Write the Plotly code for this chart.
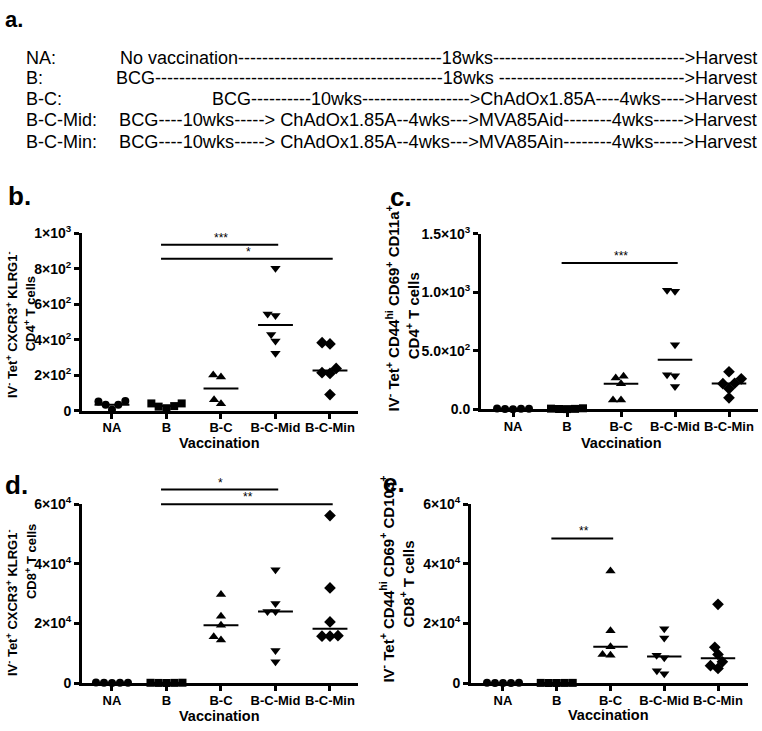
import math
import numpy as np
import plotly.graph_objects as go

W, H = 762, 731

# ---------------- data ----------------
categories = ["NA", "B", "B-C", "B-C-Mid", "B-C-Min"]

b_NA = [55, 34, 7, 34, 53]
b_B = [42, 27, 15, 24, 42]
b_BC = [202, 191, 40, 62]
b_BCMid = [803, 537, 546, 430, 393, 325]
b_BCMin = [377, 384, 215, 211, 239, 92]

c_NA = [4, 2, 0, 3, 6]
c_B = [3, 8, 1, 5, 2]
c_BC = [267, 281, 217, 78, 78]
c_BCMid = [1017, 1008, 550, 294, 286, 194]
c_BCMin = [320, 260, 222, 218, 175, 97]

d_NA = [150, 80, 0, 60, 120]
d_B = [100, 50, 0, 30, 80]
d_BC = [29700, 22400, 19400, 14400, 15500]
d_BCMid = [38000, 26700, 24000, 24000, 10900, 7100]
d_BCMin = [56200, 31900, 20500, 15900, 15700, 15700]

e_NA = [60, 20, 0, 40, 80]
e_B = [30, 0, 50, 10, 40]
e_BC = [37600, 17500, 12200, 9300, 9600]
e_BCMid = [18200, 15100, 9300, 8500, 4100, 3100]
e_BCMin = [26400, 12000, 9600, 7100, 5800, 4900]

b_ticks = [0, 200, 400, 600, 800, 1000]
b_ticktext = ["0", "2×10<sup>2</sup>", "4×10<sup>2</sup>", "6×10<sup>2</sup>", "8×10<sup>2</sup>", "1×10<sup>3</sup>"]
c_ticks = [0, 500, 1000, 1500]
c_ticktext = ["0.0", "5.0×10<sup>2</sup>", "1.0×10<sup>3</sup>", "1.5×10<sup>3</sup>"]
de_ticks = [0, 20000, 40000, 60000]
de_ticktext = ["0", "2×10<sup>4</sup>", "4×10<sup>4</sup>", "6×10<sup>4</sup>"]

# significance comparisons: (from, to, level, stars)
sig_b = [("B", "B-C-Mid", 936, "***"), ("B", "B-C-Min", 857, "*")]
sig_c = [("B", "B-C-Mid", 1250, "***")]
sig_d = [("B", "B-C-Mid", 64900, "*"), ("B", "B-C-Min", 60000, "**")]
sig_e = [("B", "B-C", 48500, "**")]

title_b = ["IV<sup>-</sup> Tet<sup>+</sup> CXCR3<sup>+</sup> KLRG1<sup>-</sup>", "CD4<sup>+</sup> T cells"]
title_c = ["IV<sup>-</sup> Tet<sup>+</sup> CD44<sup>hi</sup> CD69<sup>+</sup> CD11a<sup>+</sup>", "CD4<sup>+</sup> T cells"]
title_d = ["IV<sup>-</sup> Tet<sup>+</sup> CXCR3<sup>+</sup> KLRG1<sup>-</sup>", "CD8<sup>+</sup> T cells"]
title_e = ["IV<sup>-</sup> Tet<sup>+</sup> CD44<sup>hi</sup> CD69<sup>+</sup> CD103<sup>+</sup>", "CD8<sup>+</sup> T cells"]
x_title = "Vaccination"

schedule_labels = ["NA:", "B:", "B-C:", "B-C-Mid:", "B-C-Min:"]
schedule_text = [
    "No vaccination" + "-" * 34 + "18wks" + "-" * 32 + "&gt;Harvest",
    "BCG" + "-" * 48 + "18wks " + "-" * 31 + "&gt;Harvest",
    "BCG" + "-" * 10 + "10wks" + "-" * 18 + "&gt;ChAdOx1.85A" + "-" * 4 + "4wks" + "-" * 4 + "&gt;Harvest",
    "BCG----10wks-----&gt; ChAdOx1.85A--4wks---&gt;MVA85Aid--------4wks-----&gt;Harvest",
    "BCG----10wks-----&gt; ChAdOx1.85A--4wks---&gt;MVA85Ain--------4wks-----&gt;Harvest",
]

# ---------------- layout helpers ----------------
def px(x):
    return x / W

def py(y):
    return 1 - y / H

symbols = ["circle", "square", "triangle-up", "triangle-down", "diamond"]
msizes = [8, 8, 9, 9, 9]

def swarm(values, ymax, hpx, D=8.0):
    ypx = [v / ymax * hpx for v in values]
    order = sorted(range(len(values)), key=lambda i: ypx[i])
    placed = []
    offs = [0.0] * len(values)
    for i in order:
        cands = [0.0]
        for (qx, qy) in placed:
            dy = ypx[i] - qy
            if abs(dy) < D:
                dx = math.sqrt(D * D - dy * dy)
                cands += [qx - dx, qx + dx]
        ok = [c for c in cands
              if all((c - qx) ** 2 + (ypx[i] - qy) ** 2 >= D * D - 1e-6 for qx, qy in placed)]
        best = min(ok, key=lambda c: (round(abs(c), 6), c))
        placed.append((best, ypx[i]))
        offs[i] = best
    return offs

fig = go.Figure()
font_fam = "Liberation Sans, Arial, sans-serif"
BK = "black"

panels = [
    dict(n=1, groups=[b_NA, b_B, b_BC, b_BCMid, b_BCMin], x0=82, x1=358, ytop=229, ybot=411,
         xr=[-0.55, 4.514], ymax=1000, tv=b_ticks, tt=b_ticktext, sig=sig_b),
    dict(n=2, groups=[c_NA, c_B, c_BC, c_BCMid, c_BCMin], x0=481, x1=758, ytop=229.3, ybot=409.3,
         xr=[-0.593, 4.537], ymax=1500, tv=c_ticks, tt=c_ticktext, sig=sig_c),
    dict(n=3, groups=[d_NA, d_B, d_BC, d_BCMid, d_BCMin], x0=82, x1=358, ytop=506.7, ybot=690,
         xr=[-0.55, 4.514], ymax=60000, tv=de_ticks, tt=de_ticktext, sig=sig_d),
    dict(n=4, groups=[e_NA, e_B, e_BC, e_BCMid, e_BCMin], x0=471, x1=748, ytop=506.7, ybot=690,
         xr=[-0.595, 4.558], ymax=60000, tv=de_ticks, tt=de_ticktext, sig=sig_e),
]

annotations = []
layout_axes = {}
EXT = 45  # extra px above the axis for comparison bars (hidden overlay axis)

for p in panels:
    n = p["n"]
    xa, ya, ys = "x%d" % n, "y%d" % n, "y%d" % (n + 4)
    hpx = p["ybot"] - p["ytop"]
    ppu = (p["x1"] - p["x0"]) / (p["xr"][1] - p["xr"][0])
    for (a, b, lvl, stars) in p["sig"]:
        ia, ib = categories.index(a), categories.index(b)
        fig.add_trace(go.Scatter(
            x=[ia - 0.1, ib + 0.05], y=[lvl, lvl], mode="lines", xaxis=xa, yaxis=ys,
            line=dict(color=BK, width=2), cliponaxis=False, showlegend=False, hoverinfo="skip"))
        annotations.append(dict(x=(ia + ib) / 2, y=lvl, xref=xa, yref=ys, text=stars, showarrow=False,
                                yanchor="bottom", yshift=-2, font=dict(family=font_fam, size=12, color=BK)))
    for gi, vals in enumerate(p["groups"]):
        offs = swarm(vals, p["ymax"], hpx)
        xs = [gi + o / ppu for o in offs]
        fig.add_trace(go.Scatter(
            x=xs, y=vals, mode="markers", xaxis=xa, yaxis=ya,
            marker=dict(symbol=symbols[gi], size=msizes[gi], color=BK, line=dict(width=0)),
            cliponaxis=False, showlegend=False, hoverinfo="y"))
        med = float(np.median(vals))
        fig.add_trace(go.Scatter(
            x=[gi - 0.32, gi + 0.32], y=[med, med], mode="lines", xaxis=xa, yaxis=ya,
            line=dict(color=BK, width=2), cliponaxis=False, showlegend=False, hoverinfo="skip"))
    layout_axes["xaxis%d" % n] = dict(
        domain=[px(p["x0"]), px(p["x1"])], range=p["xr"], anchor=ya,
        tickmode="array", tickvals=list(range(5)), ticktext=["<b>%s</b>" % c for c in categories],
        showline=True, linecolor=BK, linewidth=3, ticks="outside", ticklen=5, tickwidth=2.5,
        tickcolor=BK, showgrid=False, zeroline=False,
        tickfont=dict(family=font_fam, size=13, color=BK))
    layout_axes["yaxis%d" % n] = dict(
        domain=[py(p["ybot"]), py(p["ytop"])], range=[0, p["ymax"]], anchor=xa,
        tickmode="array", tickvals=p["tv"], ticktext=["<b>%s</b>" % t for t in p["tt"]],
        showline=True, linecolor=BK, linewidth=3, ticks="outside", ticklen=5, tickwidth=2.5,
        tickcolor=BK, showgrid=False, zeroline=False,
        tickfont=dict(family=font_fam, size=14, color=BK))
    layout_axes["yaxis%d" % (n + 4)] = dict(
        domain=[py(p["ybot"]), py(p["ytop"] - EXT)], range=[0, p["ymax"] * (hpx + EXT) / hpx],
        anchor=xa, visible=False, showgrid=False, zeroline=False)

# x-axis titles
for (cx, cy) in [(219, 444), (621, 444), (219, 724), (608, 723)]:
    annotations.append(dict(x=px(cx), y=py(cy), xref="paper", yref="paper", text="<b>%s</b>" % x_title,
                            showarrow=False, xanchor="center", yanchor="middle",
                            font=dict(family=font_fam, size=14.5, color=BK)))

# y-axis titles (two lines each)
ytitles = [
    (title_b, (12, 323), (30, 312), 13),
    (title_c, (392, 306), (412, 314), 15),
    (title_d, (12, 608), (31, 566), 13),
    (title_e, (387, 584), (407, 589), 15),
]
for (tl, p1, p2, fs) in ytitles:
    for txt, (cx, cy) in zip(tl, [p1, p2]):
        annotations.append(dict(x=px(cx), y=py(cy), xref="paper", yref="paper", text="<b>" + txt + "</b>",
                                showarrow=False, textangle=-90, xanchor="center", yanchor="middle",
                                font=dict(family=font_fam, size=fs, color=BK)))

# panel letters
for (lbl, lx, ly, fs) in [("a.", 3, 10, 22), ("b.", 6, 191, 26), ("c.", 388, 192, 26),
                          ("d.", 3, 487, 26), ("e.", 381, 485, 26)]:
    annotations.append(dict(x=px(lx), y=py(ly), xref="paper", yref="paper", text="<b>" + lbl + "</b>",
                            showarrow=False, xanchor="left", yanchor="middle",
                            font=dict(family=font_fam, size=fs, color=BK)))

# schedule text (panel a)
row_y = [49, 70, 91, 113, 135]
row_fs = [18, 18, 18, 18.2, 18.2]
for lab, txt, yy, fs in zip(schedule_labels, schedule_text, row_y, row_fs):
    annotations.append(dict(x=px(24), y=py(yy), xref="paper", yref="paper", text=lab, showarrow=False,
                            xanchor="left", yanchor="middle", font=dict(family=font_fam, size=18, color=BK)))
    annotations.append(dict(x=px(759), y=py(yy), xref="paper", yref="paper", text=txt, showarrow=False,
                            xanchor="right", yanchor="middle", font=dict(family=font_fam, size=fs, color=BK)))

fig.update_layout(
    width=W, height=H, margin=dict(l=0, r=0, t=0, b=0),
    paper_bgcolor="white", plot_bgcolor="rgba(0,0,0,0)",
    annotations=annotations, showlegend=False, **layout_axes)

try:
    fig.update_xaxes(ticklabelstandoff=-2)
except Exception:
    pass

fig.write_html("out.html", post_script="document.body.style.margin='0';",
               config={"displayModeBar": False})
